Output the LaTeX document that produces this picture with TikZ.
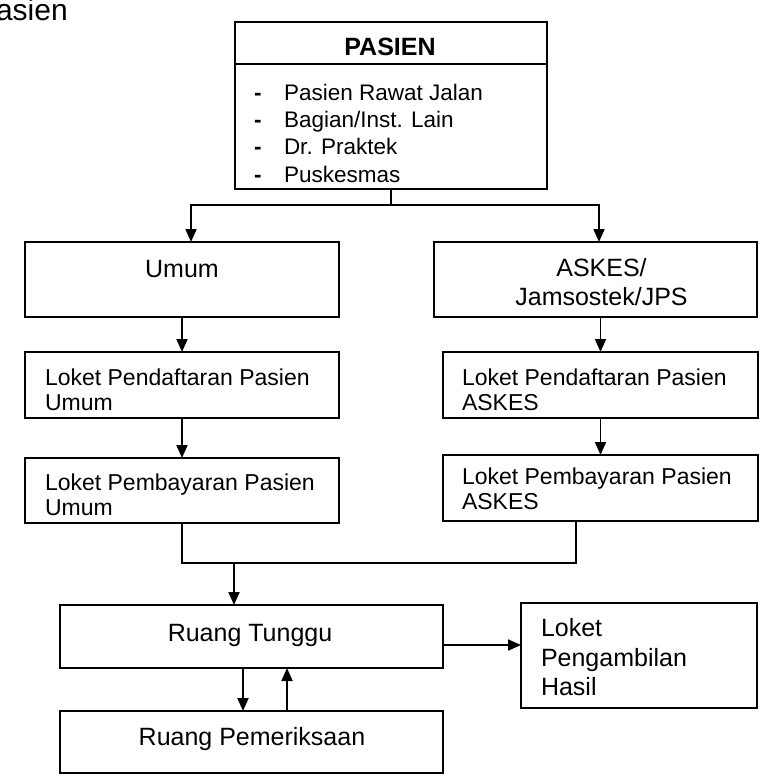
\documentclass[tikz,border=0pt]{standalone}
\usepackage{fontspec}
\setmainfont{Liberation Sans}
\usetikzlibrary{arrows.meta}
\begin{document}
\begin{tikzpicture}[x=1pt,y=-1pt,
  box/.style={draw=black, line width=1.8pt, inner sep=0pt, outer sep=0pt, fill=white},
  lbl/.style={inner sep=0pt, outer sep=0pt, text=black},
  ln/.style={draw=black, line width=1.8pt, line join=miter},
  arr/.style={ln, -{Triangle[length=13pt,width=11pt]}},
  fbig/.style={font=\fontsize{25}{29}\selectfont},
  fbigb/.style={font=\fontsize{25}{29}\selectfont\bfseries},
  floket/.style={font=\fontsize{23}{25}\selectfont, align=left},
  flist/.style={font=\fontsize{22.5}{27.3}\selectfont, align=left},
  fhasil/.style={font=\fontsize{25}{29.5}\selectfont, align=left}
]
\useasboundingbox (0,0) rectangle (763,776);

% clipped caption at top left
\begin{scope}
  \clip (0,0) rectangle (763,776);
  \node[lbl, font=\fontsize{30}{34}\selectfont, anchor=base west] (cap) at (-24,20.5) {Pasien};
\end{scope}

% PASIEN box
\node[box, minimum width=312pt, minimum height=42pt] (head) at (391,43) {};
\node[box, minimum width=312pt, minimum height=125pt] (body) at (391,126.5) {};
\node[lbl, fbigb, anchor=base] (headt) at (390,56) {PASIEN};
\node[lbl, flist, anchor=west] (list) at (254,133.1)
  {\makebox[30pt][l]{\bfseries -}Pasien Rawat Jalan\\
   \makebox[30pt][l]{\bfseries -}Bagian/Inst. Lain\\
   \makebox[30pt][l]{\bfseries -}Dr. Praktek\\
   \makebox[30pt][l]{\bfseries -}Puskesmas};

% second row
\node[box, minimum width=314pt, minimum height=75pt] (umum) at (182,279.5) {};
\node[lbl, fbig, anchor=base] (umumt) at (182,277) {Umum};
\node[box, minimum width=323pt, minimum height=75pt] (askes) at (595.5,279.5) {};
\node[lbl, fbig, align=center] (askest) at (601.5,282.4) {ASKES/\\Jamsostek/JPS};

% third row
\node[box, minimum width=314pt, minimum height=66pt] (pendU) at (182,385) {};
\node[lbl, floket, anchor=west] (pendUt) at (45,389.3) {Loket Pendaftaran Pasien\\Umum};
\node[box, minimum width=315pt, minimum height=66pt] (pendA) at (600.5,385) {};
\node[lbl, floket, anchor=west] (pendAt) at (462,389.3) {Loket Pendaftaran Pasien\\ASKES};

% fourth row
\node[box, minimum width=314pt, minimum height=65pt] (bayarU) at (182,490.5) {};
\node[lbl, floket, anchor=west] (bayarUt) at (45,494.3) {Loket Pembayaran Pasien\\Umum};
\node[box, minimum width=315pt, minimum height=66pt] (bayarA) at (600.5,488) {};
\node[lbl, floket, anchor=west] (bayarAt) at (462,488.3) {Loket Pembayaran Pasien\\ASKES};

% bottom
\node[box, minimum width=383pt, minimum height=63pt] (tunggu) at (251.5,636.5) {};
\node[lbl, fbig, anchor=base] (tunggut) at (250,641) {Ruang Tunggu};
\node[box, minimum width=236pt, minimum height=105pt] (loket) at (639,655.5) {};
\node[lbl, fhasil, anchor=west] (loketst) at (541,657.3) {Loket\\Pengambilan\\Hasil};
\node[box, minimum width=383pt, minimum height=62pt] (periksa) at (251.5,742) {};
\node[lbl, fbig, anchor=base] (periksat) at (252,745) {Ruang Pemeriksaan};

% connectors
\coordinate (jn) at (391,205);
\coordinate (jl) at (191,205);
\coordinate (jr) at (599,205);
\draw[ln] (body.south) -- (jn);
\draw[arr] (jn) -- (jl) -- (jl |- umum.north);
\draw[arr] (jn) -- (jr) -- (jr |- askes.north);

\draw[arr] (umum.south) -- (pendU.north);
\draw[arr] (pendA.north |- askes.south) -- (pendA.north);
\draw[arr] (pendU.south) -- (bayarU.north);
\draw[arr] (pendA.south) -- (bayarA.north);

\coordinate (mR) at (576,563);
\coordinate (mD) at (234,563);
\draw[ln] (bayarU.south) |- (mR) -- (mR |- bayarA.south);
\draw[arr] (mD) -- (mD |- tunggu.north);

\coordinate (ta) at (443,645);
\draw[arr] (ta) -- (ta -| loket.west);

\coordinate (dn) at (243,0);
\coordinate (up) at (287,0);
\draw[arr] (dn |- tunggu.south) -- (dn |- periksa.north);
\draw[arr] (up |- periksa.north) -- (up |- tunggu.south);
\end{tikzpicture}
\end{document}
